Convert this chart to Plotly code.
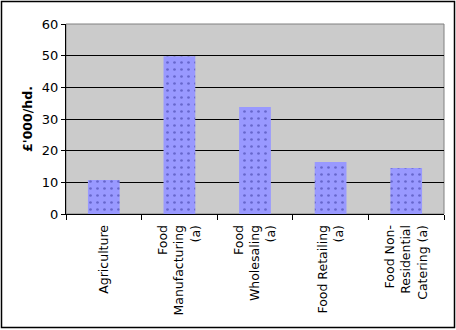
import plotly.graph_objects as go

categories = ["Agriculture", "Food<br>Manufacturing<br>(a)", "Food<br>Wholesaling<br>(a)",
              "Food Retailing<br>(a)", "Food Non-<br>Residential<br>Catering (a)"]
values = [10.7, 49.8, 33.8, 16.4, 14.5]
y_ticks = [0, 10, 20, 30, 40, 50, 60]

W, H = 456, 330
L, R, T, B = 66, 12, 24, 116
pw, ph = W - L - R, H - T - B

fig = go.Figure()
fig.add_trace(go.Bar(
    x=categories, y=values,
    marker=dict(color="#9999FF", line=dict(width=0),
                pattern=dict(shape=".", fgcolor="#333399", bgcolor="#9999FF",
                             size=7, solidity=0.12)),
    width=0.42,
))
fig.update_layout(
    width=W, height=H,
    margin=dict(l=L, r=R, t=T, b=B),
    paper_bgcolor="white", plot_bgcolor="#CBCBCB",
    showlegend=False,
    font=dict(family="DejaVu Sans, Verdana, sans-serif", size=12, color="black"),
    xaxis=dict(tickangle=-90, tickson="boundaries", ticks="outside", ticklen=5,
               tickcolor="black", showline=True, linecolor="black", linewidth=1,
               showgrid=False, tickfont=dict(size=12.5), ticklabelstandoff=5),
    yaxis=dict(range=[0, 60], tickvals=y_ticks, ticks="outside", ticklen=4,
               tickcolor="black", showline=True, linecolor="black", linewidth=1,
               showgrid=True, gridcolor="black", gridwidth=1, zeroline=False,
               tickfont=dict(size=13),
               title=dict(text="<b>£'000/hd.</b>", font=dict(size=12.5), standoff=6)),
)
fig.add_shape(type="rect", xref="paper", yref="paper", x0=0, y0=0, x1=1, y1=1,
              line=dict(color="#808080", width=1), layer="below")
fig.add_shape(type="rect", xref="paper", yref="paper",
              x0=-(L - 1.5) / pw, x1=1 + (R - 1.5) / pw,
              y0=-(B - 2.5) / ph, y1=1 + (T - 1.5) / ph,
              line=dict(color="black", width=1.5))
fig.write_html("out.html")
